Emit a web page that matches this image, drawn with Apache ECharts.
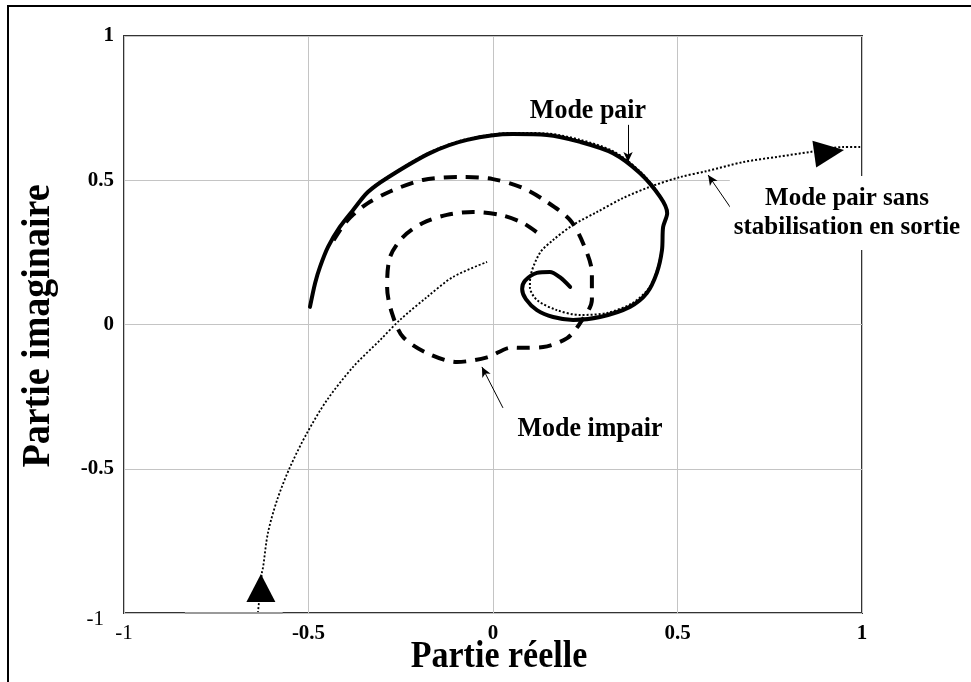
<!DOCTYPE html>
<html>
<head>
<meta charset="utf-8">
<script src="https://cdn.jsdelivr.net/npm/echarts@6/dist/echarts.min.js"></script>
<style>
  html, body { margin: 0; padding: 0; background: #fff; }
  #chart { width: 971px; height: 682px; }
</style>
</head>
<body>
<div id="chart"></div>
<script>
// Complex-plane trajectories (real part, imaginary part)

// Even mode, with output stabilisation (thick solid curve)
const modePair = [
  [-0.496, 0.061], [-0.482, 0.144], [-0.469, 0.199], [-0.447, 0.269],
  [-0.415, 0.338], [-0.379, 0.397], [-0.339, 0.459], [-0.287, 0.508],
  [-0.171, 0.594], [-0.070, 0.640], [0.054, 0.660], [0.146, 0.657],
  [0.236, 0.633], [0.325, 0.594], [0.398, 0.525], [0.453, 0.442],
  [0.472, 0.386], [0.461, 0.338], [0.458, 0.258], [0.444, 0.179],
  [0.417, 0.109], [0.371, 0.061], [0.290, 0.026], [0.217, 0.016],
  [0.163, 0.026], [0.119, 0.050], [0.089, 0.088], [0.079, 0.123],
  [0.087, 0.152], [0.119, 0.179], [0.154, 0.182], [0.182, 0.163],
  [0.209, 0.130]
];

// Even mode without output stabilisation (dotted, leaves to the right)
const modePairLibre = [
  [-0.496, 0.061], [-0.482, 0.144], [-0.469, 0.199], [-0.447, 0.269],
  [-0.415, 0.338], [-0.379, 0.397], [-0.339, 0.461], [-0.287, 0.510],
  [-0.171, 0.597], [-0.070, 0.643], [0.054, 0.664], [0.146, 0.662],
  [0.236, 0.640], [0.325, 0.601], [0.398, 0.531], [0.453, 0.446],
  [0.472, 0.386], [0.461, 0.338], [0.458, 0.269], [0.447, 0.199],
  [0.425, 0.130], [0.379, 0.075], [0.309, 0.040], [0.236, 0.033],
  [0.173, 0.050], [0.119, 0.085], [0.100, 0.130], [0.102, 0.170],
  [0.127, 0.248], [0.163, 0.293], [0.217, 0.345], [0.282, 0.390],
  [0.352, 0.438], [0.425, 0.477], [0.507, 0.511], [0.580, 0.532],
  [0.678, 0.563], [0.770, 0.581], [0.859, 0.598], [0.949, 0.615],
  [1.000, 0.615]
];

// Odd mode (dashed spiral)
const modeImpair = [
  [-0.432, 0.292], [-0.405, 0.345], [-0.378, 0.382], [-0.340, 0.420],
  [-0.279, 0.461], [-0.190, 0.501], [-0.089, 0.511], [0.000, 0.504],
  [0.081, 0.473], [0.146, 0.425], [0.209, 0.362], [0.244, 0.282],
  [0.268, 0.179], [0.268, 0.085], [0.236, 0.005], [0.201, -0.047],
  [0.136, -0.078], [0.073, -0.081], [0.050, -0.080], [-0.016, -0.114],
  [-0.098, -0.130], [-0.179, -0.099], [-0.244, -0.043], [-0.274, 0.040],
  [-0.287, 0.130], [-0.279, 0.234], [-0.244, 0.303], [-0.190, 0.352],
  [-0.125, 0.380], [-0.054, 0.390], [0.019, 0.380], [0.081, 0.352],
  [0.136, 0.303]
];

// Incoming trajectory (thin dotted curve from the lower edge)
const entree = [
  [-0.637, -1.000], [-0.626, -0.858], [-0.623, -0.841], [-0.610, -0.723],
  [-0.585, -0.608], [-0.550, -0.494], [-0.504, -0.376], [-0.450, -0.262],
  [-0.379, -0.147], [-0.306, -0.054], [-0.252, 0.016], [-0.179, 0.095],
  [-0.108, 0.165], [-0.016, 0.217]
];

// Direction arrows on the dotted curves: [x, y, rotation]
const flecheEntree = [-0.629, -0.913, 0];
const flecheSortie = [0.911, 0.598, -82];

// Pointers from the annotations to the curves: [[x1, y1], [x2, y2]]
const pointeurPair = [[0.366, 0.692], [0.366, 0.563]];
const pointeurLibre = [[0.648, 0.397], [0.583, 0.518]];
const pointeurImpair = [[0.027, -0.289], [-0.030, -0.147]];

// Axis ticks
const axisMin = -1, axisMax = 1, axisStep = 0.5;
const plainTick = -1;

const serif = '"Liberation Serif", "DejaVu Serif", serif';

const chart = echarts.init(document.getElementById('chart'), null, { renderer: 'canvas' });

function tickFormatter(v) {
  return v === plainTick ? '{n|' + v + '}' : '{b|' + v + '}';
}

function pointer(seg) {
  return [{ coord: seg[0] }, { coord: seg[1] }];
}

chart.setOption({
  animation: false,
  backgroundColor: '#fff',
  grid: {
    left: 124, top: 36, right: 109, bottom: 69,
    show: true, borderColor: '#333', borderWidth: 2, backgroundColor: 'transparent'
  },
  xAxis: {
    type: 'value', min: axisMin, max: axisMax, interval: axisStep,
    axisLine: { show: false }, axisTick: { show: false },
    splitLine: { show: true, lineStyle: { color: '#c4c4c4', width: 1 } },
    axisLabel: {
      margin: 10, formatter: tickFormatter,
      rich: {
        b: { fontFamily: serif, fontWeight: 'bold', fontSize: 21, color: '#000' },
        n: { fontFamily: serif, fontWeight: 'normal', fontSize: 21, color: '#000' }
      }
    }
  },
  yAxis: {
    type: 'value', min: axisMin, max: axisMax, interval: axisStep,
    axisLine: { show: false }, axisTick: { show: false },
    splitLine: { show: true, lineStyle: { color: '#c4c4c4', width: 1 } },
    axisLabel: {
      margin: 10, formatter: tickFormatter,
      rich: {
        b: { fontFamily: serif, fontWeight: 'bold', fontSize: 21, color: '#000' },
        n: { fontFamily: serif, fontWeight: 'normal', fontSize: 21, color: '#000', padding: [12, 10, 0, 0] }
      }
    }
  },
  series: [
    {
      name: 'Entrée', type: 'line', data: entree, smooth: 0.3,
      showSymbol: false, clip: false,
      lineStyle: { color: '#000', width: 1.8, type: [2, 2] },
      markPoint: {
        silent: true, label: { show: false },
        data: [{
          coord: flecheEntree.slice(0, 2), symbol: 'triangle',
          symbolSize: [29, 28], symbolRotate: flecheEntree[2],
          itemStyle: { color: '#000' }
        }]
      },
      markLine: {
        silent: true, symbol: 'none', label: { show: false },
        lineStyle: { color: '#9a9a9a', width: 2, type: 'solid' },
        data: [[{ coord: [-0.835, -1] }, { coord: [-0.57, -1] }]]
      }
    },
    {
      name: 'Mode pair sans stabilisation en sortie', type: 'line', data: modePairLibre, smooth: 0.3,
      showSymbol: false,
      lineStyle: { color: '#000', width: 2, type: [2, 2] },
      markPoint: {
        silent: true, label: { show: false },
        data: [{
          coord: flecheSortie.slice(0, 2), symbol: 'triangle',
          symbolSize: [27, 30], symbolRotate: flecheSortie[2],
          itemStyle: { color: '#000' }
        }]
      },
      markLine: {
        silent: true, symbol: ['none', 'arrow'], symbolSize: [7, 10], label: { show: false },
        lineStyle: { color: '#000', width: 1, type: 'solid' },
        data: [pointer(pointeurPair), pointer(pointeurLibre), pointer(pointeurImpair)]
      }
    },
    {
      name: 'Mode impair', type: 'line', data: modeImpair, smooth: 0.3,
      showSymbol: false,
      lineStyle: { color: '#000', width: 4, type: [13, 9], cap: 'butt' }
    },
    {
      name: 'Mode pair', type: 'line', data: modePair, smooth: 0.3,
      showSymbol: false,
      lineStyle: { color: '#000', width: 4, cap: 'round', join: 'round' }
    }
  ],
  graphic: [
    {
      type: 'rect', z: 100, silent: true,
      shape: { x: 8, y: 6, width: 1000, height: 1000 },
      style: { fill: 'none', stroke: '#000', lineWidth: 2 }
    },
    {
      type: 'text', z: 100, x: 499, y: 657, scaleY: 1.12,
      style: { text: 'Partie réelle', font: 'bold 34px ' + serif, fill: '#000', textAlign: 'center', textVerticalAlign: 'middle' }
    },
    {
      type: 'text', z: 100, x: 38, y: 326, rotation: Math.PI / 2, scaleY: 1.08,
      style: { text: 'Partie imaginaire', font: 'bold 38px ' + serif, fill: '#000', textAlign: 'center', textVerticalAlign: 'middle' }
    },
    {
      type: 'text', z: 100, x: 588, y: 111, scaleY: 1.08,
      style: { text: 'Mode pair', font: 'bold 26px ' + serif, fill: '#000', textAlign: 'center', textVerticalAlign: 'middle' }
    },
    {
      type: 'text', z: 100, x: 590, y: 429, scaleY: 1.08,
      style: { text: 'Mode impair', font: 'bold 26px ' + serif, fill: '#000', textAlign: 'center', textVerticalAlign: 'middle' }
    },
    {
      type: 'text', z: 100, x: 847, y: 176,
      style: {
        text: 'Mode pair sans\nstabilisation en sortie', font: 'bold 25px ' + serif,
        fill: '#000', textAlign: 'center', textVerticalAlign: 'top', lineHeight: 29,
        backgroundColor: '#fff', padding: [8, 4, 8, 4]
      }
    }
  ]
});
</script>
</body>
</html>
